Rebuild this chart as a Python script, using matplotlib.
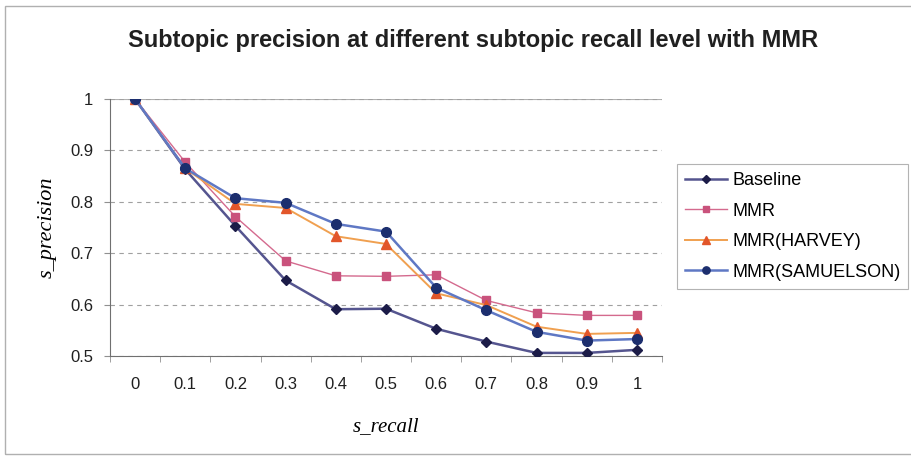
import matplotlib.pyplot as plt
import numpy as np
from matplotlib.patches import Rectangle

# data
recall = ['0', '0.1', '0.2', '0.3', '0.4', '0.5', '0.6', '0.7', '0.8', '0.9', '1']
baseline = [1.0, 0.863, 0.753, 0.647, 0.591, 0.592, 0.553, 0.528, 0.506, 0.506, 0.512]
mmr = [1.0, 0.877, 0.771, 0.685, 0.656, 0.655, 0.658, 0.608, 0.584, 0.579, 0.579]
mmr_harvey = [1.0, 0.865, 0.796, 0.788, 0.733, 0.718, 0.622, 0.599, 0.557, 0.543, 0.545]
mmr_samuelson = [1.0, 0.865, 0.807, 0.798, 0.757, 0.742, 0.633, 0.589, 0.547, 0.530, 0.533]

series_names = ['Baseline', 'MMR', 'MMR(HARVEY)', 'MMR(SAMUELSON)']

fig = plt.figure(figsize=(9.11, 4.57), dpi=100)
fig.patches.append(Rectangle((0.006, 0.006), 1.2, 0.98, transform=fig.transFigure,
                             fill=False, ec='#b0b0b0', lw=1.0))

ax = fig.add_axes([110/911, 101/457, 552/911, 257/457])
x = np.arange(len(recall))

ax.plot(x, baseline, '-', color='#55558f', lw=1.8, marker='D', ms=5.5,
        mfc='#1c1c48', mec='#1c1c48', label=series_names[0], zorder=3)
ax.plot(x, mmr, '-', color='#d46a8e', lw=1.0, marker='s', ms=6,
        mfc='#c9527c', mec='#c9527c', label=series_names[1], zorder=3)
ax.plot(x, mmr_harvey, '-', color='#f0a050', lw=1.4, marker='^', ms=7,
        mfc='#e2562a', mec='#e2562a', label=series_names[2], zorder=3)
ax.plot(x, mmr_samuelson, '-', color='#5f78c4', lw=1.8, marker='o', ms=7,
        mfc='#1c2e6e', mec='#1c2e6e', label=series_names[3], zorder=4)

ax.set_xlim(-0.5, len(recall) - 0.5)
ax.set_ylim(0.5, 1.0)
ax.set_yticks([0.5, 0.6, 0.7, 0.8, 0.9, 1.0])
ax.set_yticklabels(['0.5', '0.6', '0.7', '0.8', '0.9', '1'])
ax.set_xticks(x)
ax.set_xticklabels(recall)
ax.set_xticks(np.arange(-0.5, len(recall)), minor=True)
ax.tick_params(axis='x', which='major', length=0, pad=15, labelsize=12, labelcolor='#202020')
ax.tick_params(axis='x', which='minor', length=4, color='#909090')
ax.tick_params(axis='y', length=4, color='#909090', pad=8, labelsize=12, labelcolor='#202020')
for lab in ax.get_xticklabels() + ax.get_yticklabels():
    lab.set_fontfamily('Liberation Sans')

ax.grid(axis='y', ls=(0, (4, 4)), color='#a0a0a0', lw=0.8)
ax.spines['top'].set_visible(False)
ax.spines['right'].set_visible(False)
ax.spines['left'].set_color('#707070')
ax.spines['bottom'].set_color('#707070')
ax.axhline(1.0, color='#b0b0b0', lw=0.8, zorder=1)

ax.set_ylabel('s_precision', fontfamily='Liberation Serif', fontstyle='italic',
              fontsize=16, labelpad=10)
ax.set_xlabel('s_recall', fontfamily='Liberation Serif', fontstyle='italic',
              fontsize=15, labelpad=18)

fig.text(0.519, 0.912, 'Subtopic precision at different subtopic recall level with MMR',
         ha='center', va='center', fontfamily='Liberation Sans', fontweight='bold',
         fontsize=17, color='#202020')

leg = fig.legend(loc='upper left', bbox_to_anchor=(677/911, 1 - 164/457),
                 borderaxespad=0,
                 prop={'family': 'Liberation Sans', 'size': 13},
                 frameon=True, fancybox=False, edgecolor='#a0a0a0',
                 handlelength=2.3, handletextpad=0.3, labelspacing=0.75,
                 borderpad=0.45, markerscale=0.75)
leg.get_frame().set_linewidth(0.8)

fig.savefig('out.png', dpi=100)
